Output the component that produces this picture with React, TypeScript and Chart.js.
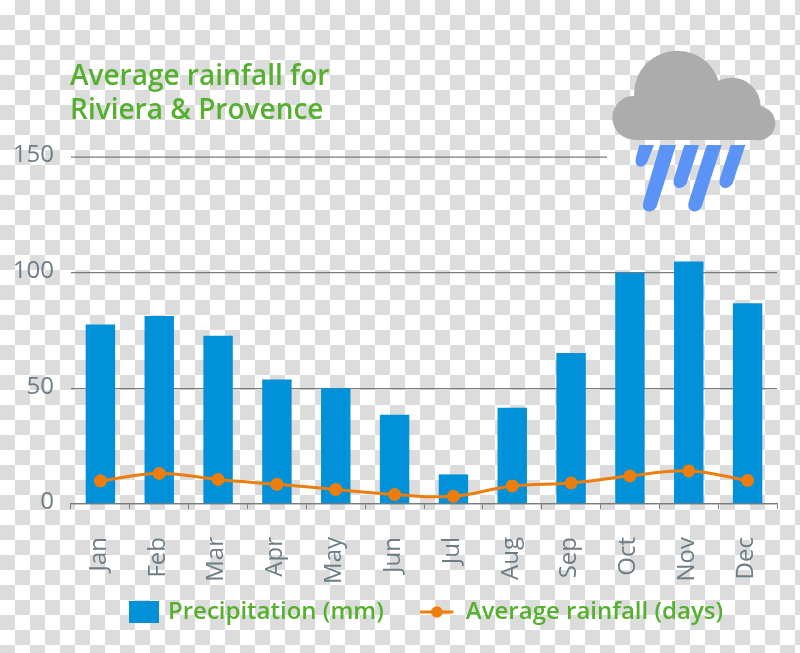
import React, { useEffect, useRef } from "react";
import { Chart, registerables } from "chart.js";

Chart.register(...registerables);

const months = ["Jan", "Feb", "Mar", "Apr", "May", "Jun", "Jul", "Aug", "Sep", "Oct", "Nov", "Dec"];
const precipitation = [77.6, 81.3, 72.7, 53.8, 50, 38.6, 12.8, 41.6, 65.3, 100, 104.8, 86.8];
const rainyDays = [10, 13.2, 10.6, 8.5, 6.3, 4.1, 3.3, 7.8, 9.1, 12.1, 14.3, 10.2];
const yTicks = [0, 50, 100, 150];
const titleLines = ["Average rainfall for", "Riviera & Provence"];

const BLUE = "#0091d9";
const ORANGE = "#ee7d0b";
const GREEN = "#55b02e";
const GREY_TEXT = "#6d7d86";
const GRID = "#7b7b7b";
const FONT = "'Open Sans', sans-serif";
const LEGEND_PADDING = 42;
const LEGEND_FONT = 24;

function barSwatch() {
  const c = document.createElement("canvas");
  c.width = 34;
  c.height = 22;
  const g = c.getContext("2d")!;
  g.fillStyle = BLUE;
  g.fillRect(4, 0, 30, 22);
  return c;
}

function lineSwatch() {
  const c = document.createElement("canvas");
  c.width = 39;
  c.height = 12;
  const g = c.getContext("2d")!;
  g.fillStyle = ORANGE;
  g.fillRect(0, 4.5, 33, 3);
  g.beginPath();
  g.arc(16.5, 6, 5.8, 0, Math.PI * 2);
  g.fill();
  return c;
}

const topGridLine = {
  id: "topGridLine",
  afterLayout(chart: any) {
    const lg = chart.legend;
    if (lg) {
      lg.left += 37;
      lg.right += 37;
      const h = lg.bottom - lg.top;
      lg.top = 612 - LEGEND_PADDING - LEGEND_FONT / 2;
      lg.bottom = lg.top + h;
    }
    // let the rotated month labels run below the axis box without being clipped
    chart.scales.x.bottom = 600;
    if (chart.titleBlock) {
      chart.titleBlock.left -= 1;
      chart.titleBlock.right -= 1;
    }
  },
  beforeDatasetsDraw(chart: any) {
    const y = chart.scales.y.getPixelForValue(150);
    const g = chart.ctx;
    g.save();
    g.strokeStyle = GRID;
    g.lineWidth = 1.3;
    g.beginPath();
    g.moveTo(chart.chartArea.left, y);
    g.lineTo(607, y);
    g.stroke();
    g.restore();
  },
};

function Cloud() {
  return (
    <svg
      width={210}
      height={200}
      viewBox="0 0 630 600"
      style={{ position: "absolute", left: 590, top: 30 }}
    >
      <g fill="#acacac">
        <circle cx="262" cy="192" r="130" />
        <circle cx="425" cy="230" r="87" />
        <circle cx="505" cy="280" r="51" />
        <circle cx="133" cy="263" r="66" />
        <rect x="133" y="220" width="372" height="110" />
      </g>
      <g fill="#5c93f6">
        <path d="M148 345 L192 345 L172 395 Q165 410 150 410 Q132 406 138 382 Z" />
        <path d="M210 345 L258 345 L200 530 Q190 547 172 544 Q154 538 160 516 Z" />
        <path d="M283 345 L327 345 L290 460 Q280 476 264 474 Q246 468 252 445 Z" />
        <path d="M350 345 L395 345 L335 530 Q325 547 308 544 Q290 538 296 516 Z" />
        <path d="M422 345 L466 345 L428 460 Q418 476 402 474 Q384 468 390 445 Z" />
      </g>
    </svg>
  );
}

export default function App() {
  const ref = useRef<HTMLCanvasElement>(null);

  useEffect(() => {
    const swatches = [barSwatch(), lineSwatch()];
    const chart = new Chart(ref.current!, {
      type: "bar",
      data: {
        labels: months,
        datasets: [
          {
            type: "line",
            label: "Average rainfall (days)",
            data: rainyDays,
            borderColor: ORANGE,
            backgroundColor: ORANGE,
            borderWidth: 3,
            pointRadius: 6.5,
            pointBackgroundColor: ORANGE,
            pointBorderWidth: 0,
            tension: 0.4,
            order: 1,
          },
          {
            type: "bar",
            label: "Precipitation (mm)",
            data: precipitation,
            backgroundColor: BLUE,
            borderWidth: 0,
            barPercentage: 0.5,
            categoryPercentage: 1,
            order: 2,
          },
        ],
      },
      options: {
        animation: false,
        responsive: false,
        layout: { padding: { left: 0, right: 23, top: 0, bottom: 0 } },
        plugins: {
          tooltip: { enabled: false },
          title: {
            display: true,
            text: titleLines,
            align: "start",
            fullSize: false,
            color: GREEN,
            font: { family: FONT, size: 28, weight: 600, lineHeight: 1.18 },
            padding: { top: 61, bottom: 30 },
          },
          legend: {
            display: true,
            position: "bottom",
            labels: {
              usePointStyle: true,
              pointStyleWidth: 28,
              padding: LEGEND_PADDING,
              color: GREEN,
              font: { family: FONT, size: LEGEND_FONT, weight: 600 },
              generateLabels: (c: any) => {
                const order = [1, 0];
                return order.map((d, i) => ({
                  text: c.data.datasets[d].label,
                  datasetIndex: d,
                  pointStyle: swatches[i],
                  fontColor: GREEN,
                  lineWidth: 0,
                  hidden: false,
                }));
              },
            },
          },
        },
        scales: {
          x: {
            offset: true,
            grid: { drawOnChartArea: false, drawTicks: true, tickLength: 5, color: GRID, offset: true },
            border: { color: GRID, width: 1.3 },
            ticks: {
              color: GREY_TEXT,
              font: { family: FONT, size: 24, weight: 500 },
              minRotation: 90,
              maxRotation: 90,
              padding: 28,
              labelOffset: -1.5,
              autoSkip: false,
            },
            afterFit: (s: any) => {
              s.height = 73;
              s.paddingLeft = 0;
              s.paddingRight = 0;
            },
          },
          y: {
            min: 0,
            max: 150,
            afterBuildTicks: (s: any) => {
              s.ticks = yTicks.map((v) => ({ value: v }));
            },
            grid: {
              drawTicks: false,
              color: (ctx: any) => (ctx.tick && ctx.tick.value === 150 ? "rgba(0,0,0,0)" : GRID),
              lineWidth: 1.3,
            },
            border: { display: false },
            ticks: {
              color: GREY_TEXT,
              font: { family: FONT, size: 24, weight: 500 },
              padding: 17,
              labelOffset: -1.5,
            },
            afterFit: (s: any) => {
              s.width = 71;
            },
          },
        },
      },
      plugins: [topGridLine],
    } as any);
    return () => chart.destroy();
  }, []);

  return (
    <div
      style={{
        position: "fixed",
        left: 0,
        top: 0,
        width: 800,
        height: 653,
        overflow: "hidden",
        background: "repeating-conic-gradient(#dcdcdc 0 25%, #ffffff 0 50%) 0 0 / 30px 30px",
      }}
    >
      <canvas ref={ref} width={800} height={653} style={{ position: "absolute", left: 0, top: 0 }} />
      <Cloud />
    </div>
  );
}
